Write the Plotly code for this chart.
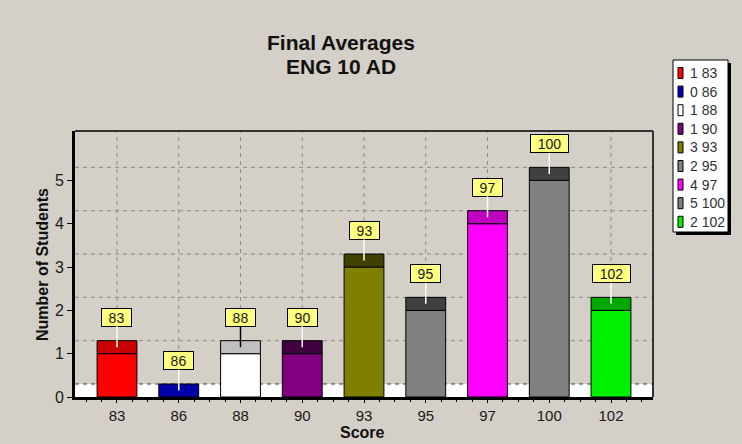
import plotly.graph_objects as go

# ---- data ----
scores = ["83", "86", "88", "90", "93", "95", "97", "100", "102"]
counts = [1, 0, 1, 1, 3, 2, 4, 5, 2]
body_colors = ["#ff0000", "#0000b4", "#ffffff", "#800080", "#808000",
               "#808080", "#ff00ff", "#808080", "#00f000"]
cap_colors = ["#c80000", "#0000a8", "#c0c0c0", "#400040", "#404000",
              "#404040", "#c000c0", "#404040", "#00a800"]
connector_colors = ["#ffffff", "#ffffff", "#000000", "#ffffff", "#ffffff",
                    "#ffffff", "#ffffff", "#ffffff", "#ffffff"]
legend_labels = [f"{c} {s}" for c, s in zip(counts, scores)]
y_ticks = [0, 1, 2, 3, 4, 5]

# ---- style constants ----
DEPTH = 0.3
BG = "#d4d0c8"
FONT = "Arial, Liberation Sans, sans-serif"
W, H = 742, 444
L, R, T, B = 75, 653, 131, 397
PW, PH = R - L, B - T
XR = [-0.68, 8.68]
YR = [0, 6.14]


def xp(px):
    return (px - L) / PW


def yp(py):
    return (B - py) / PH


xs = list(range(len(scores)))

fig = go.Figure()
fig.add_bar(x=xs, y=counts, base=0, width=0.645,
            marker=dict(color=body_colors, line=dict(color="#000000", width=1)),
            hoverinfo="skip")
fig.add_bar(x=xs, y=[DEPTH] * len(xs), base=counts, width=0.645,
            marker=dict(color=cap_colors, line=dict(color="#000000", width=1)),
            hoverinfo="skip")

shapes = []
# floor
shapes.append(dict(type="rect", xref="paper", yref="y", x0=0, x1=1, y0=0, y1=DEPTH,
                   fillcolor="#ffffff", line=dict(width=0), layer="below"))
# horizontal grid (offset by depth)
for k in y_ticks:
    shapes.append(dict(type="line", xref="paper", yref="y", x0=0, x1=1,
                       y0=k + DEPTH, y1=k + DEPTH,
                       line=dict(color="#404040" if k == 0 else "#8a8a8a",
                                 width=1, dash="4px,4px"),
                       layer="below"))
# vertical grid
for i in xs:
    shapes.append(dict(type="line", xref="x", yref="paper", x0=i, x1=i, y0=0, y1=1,
                       line=dict(color="#8a8a8a", width=1, dash="4px,4px"),
                       layer="below"))
# frame top / right
shapes.append(dict(type="line", xref="paper", yref="paper", x0=0, x1=1, y0=1, y1=1,
                   line=dict(color="#333333", width=2)))
shapes.append(dict(type="line", xref="paper", yref="paper", x0=1, x1=1, y0=0, y1=1,
                   line=dict(color="#333333", width=2)))

# legend box
lx0, lx1, ly0, ly1 = 673, 728, 60, 232
shapes.append(dict(type="rect", xref="paper", yref="paper",
                   x0=xp(lx0 + 3), x1=xp(lx1 + 3), y0=yp(ly1 + 3), y1=yp(ly0 + 3),
                   fillcolor="#000000", line=dict(width=0)))
shapes.append(dict(type="rect", xref="paper", yref="paper",
                   x0=xp(lx0), x1=xp(lx1), y0=yp(ly1), y1=yp(ly0),
                   fillcolor="#ffffff", line=dict(color="#000000", width=1)))

annotations = []
for i, lab in enumerate(legend_labels):
    cy = 73 + i * 18.6
    shapes.append(dict(type="rect", xref="paper", yref="paper",
                       x0=xp(678), x1=xp(683), y0=yp(cy + 5.5), y1=yp(cy - 5.5),
                       fillcolor=body_colors[i], line=dict(color="#000000", width=1)))
    annotations.append(dict(xref="paper", yref="paper", x=xp(688), y=yp(cy),
                            text=lab, showarrow=False, xanchor="left", yanchor="middle",
                            font=dict(family=FONT, size=14, color="#333333")))

# value labels
for i, (s, c) in enumerate(zip(scores, counts)):
    annotations.append(dict(x=i, y=c + DEPTH / 2, xref="x", yref="y", text=s,
                            showarrow=True, arrowhead=0, arrowwidth=1.5,
                            arrowcolor=connector_colors[i], ax=0, ay=-30,
                            bgcolor="#ffff80", bordercolor="#000000", borderwidth=1,
                            borderpad=2, width=25 if len(s) < 3 else 33, height=13,
                            font=dict(family=FONT, size=14, color="#1a1a1a")))

# titles
annotations.append(dict(xref="paper", yref="paper", x=xp(341), y=yp(42),
                        text="<b>Final Averages</b>", showarrow=False,
                        xanchor="center", yanchor="middle",
                        font=dict(family=FONT, size=21, color="#111111")))
annotations.append(dict(xref="paper", yref="paper", x=xp(341), y=yp(66),
                        text="<b>ENG 10 AD</b>", showarrow=False,
                        xanchor="center", yanchor="middle",
                        font=dict(family=FONT, size=21, color="#111111")))
annotations.append(dict(xref="paper", yref="paper", x=xp(362), y=yp(432),
                        text="<b>Score</b>", showarrow=False,
                        xanchor="center", yanchor="middle",
                        font=dict(family=FONT, size=16, color="#111111")))
annotations.append(dict(xref="paper", yref="paper", x=xp(42), y=yp(265),
                        text="<b>Number of Students</b>", showarrow=False,
                        textangle=-90, xanchor="center", yanchor="middle",
                        font=dict(family=FONT, size=16, color="#111111")))

fig.update_layout(
    width=W, height=H,
    margin=dict(l=L, r=W - R, t=T, b=H - B, pad=0),
    paper_bgcolor=BG, plot_bgcolor=BG,
    barmode="overlay", showlegend=False,
    shapes=shapes, annotations=annotations,
    font=dict(family=FONT, color="#1a1a1a"),
    xaxis=dict(range=XR, tickvals=xs, ticktext=scores, showgrid=False,
               zeroline=False, showline=True, linecolor="#000000", linewidth=3,
               ticks="outside", ticklen=3, tickcolor="#000000",
               tickfont=dict(family=FONT, size=15, color="#1a1a1a"),
               minor=dict(dtick=0.25, tick0=0, ticks="outside", ticklen=2,
                          tickcolor="#000000", showgrid=False),
               fixedrange=True),
    yaxis=dict(range=YR, tickvals=y_ticks, showgrid=False, zeroline=False,
               showline=True, linecolor="#000000", linewidth=3,
               ticks="outside", ticklen=5, tickcolor="#000000",
               tickfont=dict(family=FONT, size=16, color="#1a1a1a"),
               fixedrange=True),
)

fig.write_html(
    "out.html",
    config={"displayModeBar": False},
    post_script="document.body.style.margin='0';document.body.style.background='%s';" % BG,
)
